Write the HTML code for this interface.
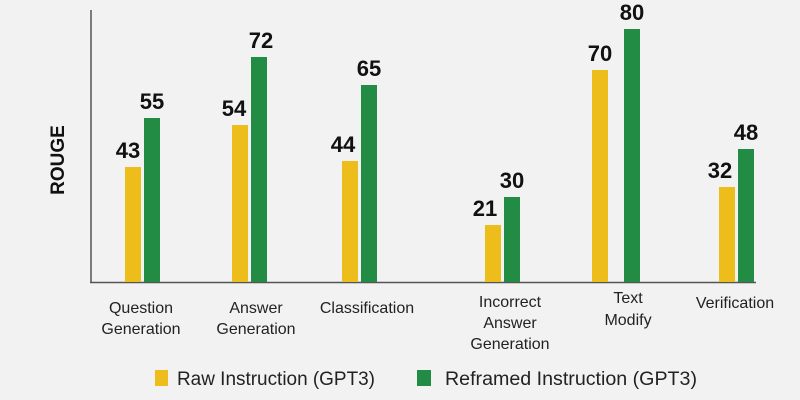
<!DOCTYPE html>
<html><head><meta charset="utf-8"><style>
html,body{margin:0;padding:0;background:#f2f2f2;}
svg{display:block;font-family:"Liberation Sans",sans-serif;}
</style></head><body>
<svg width="800" height="400" viewBox="0 0 800 400">
<rect width="800" height="400" fill="#f2f2f2"/>
<line x1="91" y1="10" x2="91" y2="283" stroke="#555" stroke-width="1.5"/>
<line x1="90" y1="282.5" x2="756" y2="282.5" stroke="#555" stroke-width="1.5"/>
<g fill="#edbd1c">
<rect x="125" y="167" width="16" height="115"/>
<rect x="232" y="125" width="16" height="157"/>
<rect x="342" y="161" width="16" height="121"/>
<rect x="485" y="225" width="16" height="57"/>
<rect x="592" y="70" width="16" height="212"/>
<rect x="719" y="187" width="16" height="95"/>
</g>
<g fill="#238c44">
<rect x="144" y="118" width="16" height="164"/>
<rect x="251" y="57" width="16" height="225"/>
<rect x="361" y="85" width="16" height="197"/>
<rect x="504" y="197" width="16" height="85"/>
<rect x="624" y="29" width="16" height="253"/>
<rect x="738" y="149" width="16" height="133"/>
</g>
<g font-size="22" font-weight="bold" fill="#111" text-anchor="middle">
<text x="128" y="158">43</text><text x="152" y="109">55</text>
<text x="234" y="116">54</text><text x="261" y="48">72</text>
<text x="343" y="152">44</text><text x="369" y="76">65</text>
<text x="485" y="216">21</text><text x="512" y="188">30</text>
<text x="600" y="61">70</text><text x="632" y="20">80</text>
<text x="720" y="178">32</text><text x="746" y="140">48</text>
</g>
<text transform="translate(64,160) rotate(-90)" font-size="19" font-weight="bold" text-anchor="middle" fill="#111">ROUGE</text>
<g font-size="16" fill="#222" text-anchor="middle">
<text x="141" y="313">Question</text><text x="141" y="334">Generation</text>
<text x="256" y="313">Answer</text><text x="256" y="334">Generation</text>
<text x="367" y="313">Classification</text>
<text x="510" y="307">Incorrect</text><text x="510" y="328">Answer</text><text x="510" y="349">Generation</text>
<text x="628" y="303">Text</text><text x="628" y="325">Modify</text>
<text x="735" y="308">Verification</text>
</g>
<rect x="155" y="370" width="13" height="16" fill="#edbd1c"/>
<text x="177" y="385" font-size="19" fill="#222" textLength="198" lengthAdjust="spacingAndGlyphs">Raw Instruction (GPT3)</text>
<rect x="417" y="370" width="14" height="16" fill="#238c44"/>
<text x="445" y="385" font-size="19" fill="#222" textLength="252" lengthAdjust="spacingAndGlyphs">Reframed Instruction (GPT3)</text>
</svg>
</body></html>
